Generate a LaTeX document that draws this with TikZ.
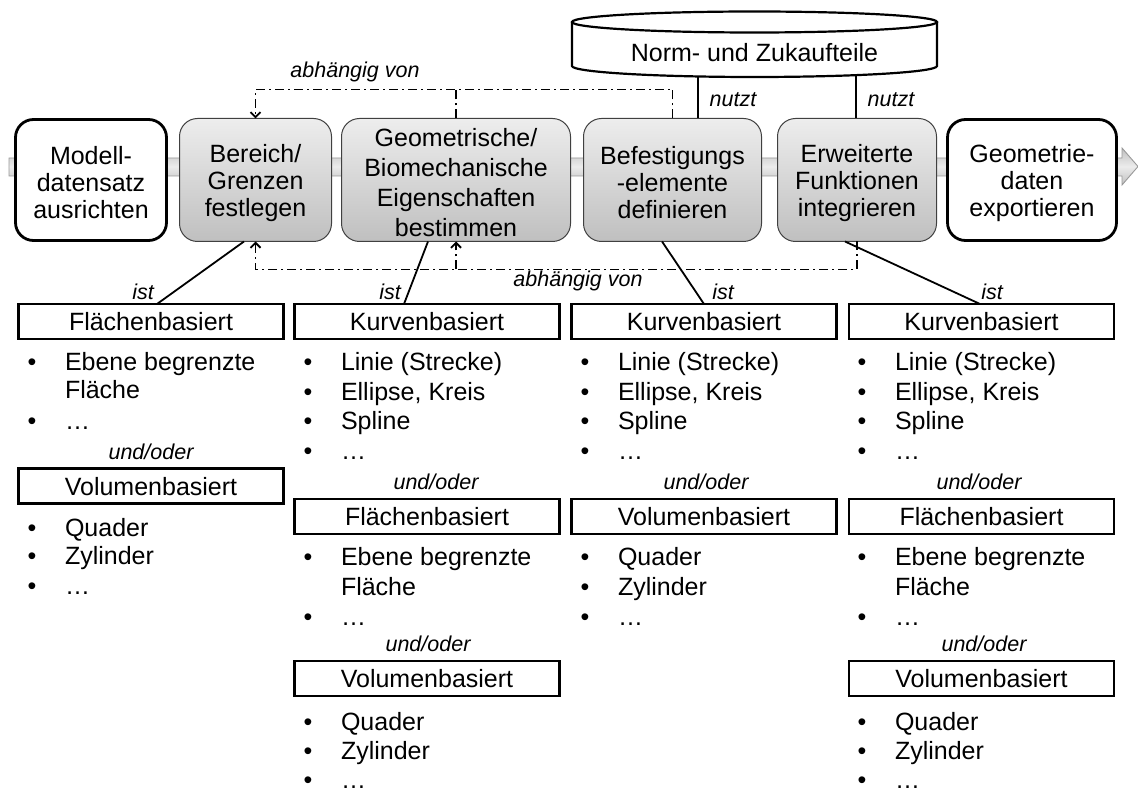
\documentclass[tikz,border=0pt]{standalone}
\usepackage{fontspec}
\setmainfont{Liberation Sans}
\usetikzlibrary{arrows.meta,calc}

% bullet line: name, left edge of column, vertical centre, text
\newcommand\listbul[4]{%
  \node[txt, anchor=base, text depth=0pt] (#1b) at (#2+15,#3+9) {•};
  \node[txt, anchor=base west, text depth=0pt] (#1) at (#2+48,#3+9) {#4};}
% continuation line of a bullet
\newcommand\listcont[4]{%
  \node[txt, anchor=base west, text depth=0pt] (#1) at (#2+48,#3+9) {#4};}

\begin{document}
\begin{tikzpicture}[x=1pt,y=-1pt,
  every node/.style={inner sep=0pt, outer sep=0pt},
  txt/.style={font=\fontsize{25}{27}\selectfont},
  lbl/.style={font=\fontsize{21.5}{24}\selectfont\itshape},
  steptext/.style={txt, align=center},
  whitebox/.style={draw=black, line width=2.8pt, rounded corners=18pt, fill=white},
  graybox/.style={draw=black!75, line width=1pt, rounded corners=18pt,
    top color=gray!14, bottom color=gray!50},
  catbox/.style={draw=black, line width=2.5pt, minimum width=265pt, minimum height=35pt,
    text height=20pt, text depth=2pt, txt},
  dd/.style={line width=1.9pt, dash pattern=on 9pt off 4pt on 2pt off 4pt},
  ddarrow/.style={dd, -{Straight Barb[length=5pt,width=10pt]}},
  link/.style={line width=1.8pt},
]
\useasboundingbox (0,0) rectangle (1138,791);

% process arrow behind the steps
\path[draw=gray!80, line width=0.9pt, top color=gray!50, bottom color=gray!50, middle color=gray!15]
  (9,158) -- (1122,158) -- (1122,148) -- (1138,166.5) -- (1122,185) -- (1122,176) -- (9,176) -- cycle;

% process steps
\node[whitebox, minimum width=151pt, minimum height=121pt] (m1) at (91,180) {};
\node[steptext] (m1t) at (91,183) {Modell-\\datensatz\\ausrichten};
\node[graybox, minimum width=152pt, minimum height=123pt] (B) at (255.5,180) {};
\node[steptext] (Bt) at (255.5,183) {Bereich/\\Grenzen\\festlegen};
\node[graybox, minimum width=229pt, minimum height=123pt] (G) at (456,180) {};
\node[steptext, font=\fontsize{25}{30}\selectfont] (Gt) at (456,183)
  {Geometrische/\\Biomechanische\\Eigenschaften\\bestimmen};
\node[graybox, minimum width=178pt, minimum height=123pt] (Bf) at (672.5,180) {};
\node[steptext] (Bft) at (672.5,183) {Befestigungs\\-elemente\\definieren};
\node[graybox, minimum width=159pt, minimum height=123pt] (E) at (857,180) {};
\node[steptext] (Et) at (857,183) {Erweiterte\\Funktionen\\integrieren};
\node[whitebox, minimum width=169pt, minimum height=121pt] (X) at (1032,180) {};
\node[steptext] (Xt) at (1032,183) {Geometrie-\\daten\\exportieren};

% database of standard and purchased parts
\draw[line width=2.2pt, fill=white] (572,22) -- (572,66)
  arc[start angle=180, end angle=0, x radius=182.5, y radius=11] -- (937,22);
\draw[line width=2.2pt, fill=white] (754.5,22) ellipse[x radius=182.5, y radius=10.5];
\node[txt] (db) at (754.5,53) {Norm- und Zukaufteile};
\coordinate (nu1) at (698,76.5);
\coordinate (nu2) at (856,75);
\draw[link] (nu1) -- (nu1 |- Bf.north);
\draw[link] (nu2) -- (nu2 |- E.north);
\node[lbl] (nt1) at (733,100) {nutzt};
\node[lbl] (nt2) at (891,100) {nutzt};

% dependencies
\draw[ddarrow] (Bf.north) -- ++(0,-29) -| (B.north);
\draw[dd] (G.north) -- ++(0,-29);
\node[lbl] (dep1) at (355,72) {abhängig von};
\draw[ddarrow] (E.south) -- ++(0,28) -| (B.south);
\draw[ddarrow] ($(G.south)+(0,28)$) -- (G.south);
\node[lbl] (dep2) at (578,281) {abhängig von};

% category boxes
\node[catbox] (c1a) at (151,321.5) {Flächenbasiert};
\node[catbox] (c2a) at (427,321.5) {Kurvenbasiert};
\node[catbox] (c3a) at (704,321.5) {Kurvenbasiert};
\node[catbox] (c4a) at (981.5,321.5) {Kurvenbasiert};

% "ist" relations
\draw[link] ([xshift=-11.5pt]B.south) -- ([xshift=6pt]c1a.north);
\draw[link] ([xshift=-28pt]G.south) -- ([xshift=-23pt]c2a.north);
\draw[link] ([xshift=-10.5pt]Bf.south) -- (c3a.north);
\draw[link] ([xshift=-12pt]E.south) -- ([xshift=-1.5pt]c4a.north);
\node[lbl] (i1) at (143,292) {ist};
\node[lbl] (i2) at (390,292) {ist};
\node[lbl] (i3) at (723,292) {ist};
\node[lbl] (i4) at (992,292) {ist};

% column 1
\listbul{a1}{17}{362}{Ebene begrenzte}
\listcont{a2}{17}{390}{Fläche}
\listbul{a3}{17}{420}{…}
\node[lbl] (a4) at (151,452) {und/oder};
\node[catbox] (c1b) at (151,486) {Volumenbasiert};
\listbul{a5}{17}{527}{Quader}
\listbul{a6}{17}{555}{Zylinder}
\listbul{a7}{17}{585}{…}

% column 2
\listbul{b1}{293}{362}{Linie (Strecke)}
\listbul{b2}{293}{392}{Ellipse, Kreis}
\listbul{b3}{293}{421}{Spline}
\listbul{b4}{293}{450}{…}
\node[lbl] (bu1) at (436,482) {und/oder};
\node[catbox] (c2b) at (427,516.5) {Flächenbasiert};
\listbul{b5}{293}{556}{Ebene begrenzte}
\listcont{b6}{293}{586}{Fläche}
\listbul{b7}{293}{616}{…}
\node[lbl] (bu2) at (428,644) {und/oder};
\node[catbox] (c2c) at (427,678.5) {Volumenbasiert};
\listbul{b8}{293}{721}{Quader}
\listbul{b9}{293}{750}{Zylinder}
\listbul{b10}{293}{779}{…}

% column 3
\listbul{d1}{570}{362}{Linie (Strecke)}
\listbul{d2}{570}{392}{Ellipse, Kreis}
\listbul{d3}{570}{421}{Spline}
\listbul{d4}{570}{450}{…}
\node[lbl] (du1) at (706,482) {und/oder};
\node[catbox] (c3b) at (704,516.5) {Volumenbasiert};
\listbul{d5}{570}{556}{Quader}
\listbul{d6}{570}{586}{Zylinder}
\listbul{d7}{570}{616}{…}

% column 4
\listbul{e1}{847}{362}{Linie (Strecke)}
\listbul{e2}{847}{392}{Ellipse, Kreis}
\listbul{e3}{847}{421}{Spline}
\listbul{e4}{847}{450}{…}
\node[lbl] (eu1) at (979,482) {und/oder};
\node[catbox] (c4b) at (981.5,516.5) {Flächenbasiert};
\listbul{e5}{847}{556}{Ebene begrenzte}
\listcont{e6}{847}{586}{Fläche}
\listbul{e7}{847}{616}{…}
\node[lbl] (eu2) at (984,644) {und/oder};
\node[catbox] (c4c) at (981.5,678.5) {Volumenbasiert};
\listbul{e8}{847}{721}{Quader}
\listbul{e9}{847}{750}{Zylinder}
\listbul{e10}{847}{779}{…}
\end{tikzpicture}
\end{document}
